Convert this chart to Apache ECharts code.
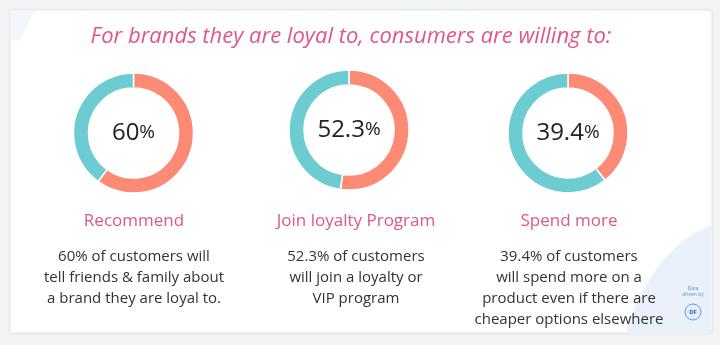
<!DOCTYPE html>
<html>
<head>
<meta charset="utf-8">
<script src="https://cdn.jsdelivr.net/npm/echarts@6/dist/echarts.min.js"></script>
<style>
html,body{margin:0;padding:0;background:#f2f3f5;}
#c{width:720px;height:345px;}
</style>
</head>
<body>
<div id="c"></div>
<script>
var titleText = "For brands they are loyal to, consumers are willing to:";
var categories = ["Recommend", "Join loyalty Program", "Spend more"];
var values = [60, 52.3, 39.4];
var valueLabels = ["60", "52.3", "39.4"];
var descriptions = [
  ["60% of customers will", "tell friends & family about", "a brand they are loyal to."],
  ["52.3% of customers", "will join a loyalty or", "VIP program"],
  ["39.4% of customers", "will spend more on a", "product even if there are", "cheaper options elsewhere"]
];

var donutX = [133.5, 349, 568];
var donutY = [133, 130, 133];
var textX = [134, 356, 569];
var FONT = "'Open Sans', sans-serif";
var SALMON = "#fd8a74";
var TEAL = "#6dcbd2";
var PINK = "#e0568a";

var chart = echarts.init(document.getElementById('c'), null, {renderer: 'canvas'});

var series = values.map(function (v, i) {
  return {
    type: 'pie',
    center: [donutX[i], donutY[i]],
    radius: [45, 60],
    startAngle: 90,
    clockwise: true,
    silent: true,
    label: {show: false},
    labelLine: {show: false},
    itemStyle: {borderColor: '#fff', borderWidth: 1.5},
    data: [
      {value: v, itemStyle: {color: SALMON}},
      {value: 100 - v, itemStyle: {color: TEAL}}
    ]
  };
});

// decorative blob outline (bottom-right corner)
function bezierPts(p0, p1, p2, p3, n) {
  var pts = [];
  for (var k = 0; k <= n; k++) {
    var t = k / n, u = 1 - t;
    pts.push([
      u*u*u*p0[0] + 3*u*u*t*p1[0] + 3*u*t*t*p2[0] + t*t*t*p3[0],
      u*u*u*p0[1] + 3*u*u*t*p1[1] + 3*u*t*t*p2[1] + t*t*t*p3[1]
    ]);
  }
  return pts;
}
var blob = bezierPts([711, 226], [688, 232], [648, 262], [626, 332], 30);
blob.push([711, 332]);

var graphics = [
  {type: 'rect', shape: {x: 10, y: 10, width: 702, height: 323, r: 2},
   style: {fill: '#ffffff', stroke: '#e6e8eb', lineWidth: 1, shadowBlur: 4, shadowColor: 'rgba(0,0,0,0.06)'}, z: -10},
  {type: 'polygon', shape: {points: [[11, 11], [34, 11], [20, 40], [11, 40]]},
   style: {fill: '#f2f6fb'}, z: -9},
  {type: 'polygon', shape: {points: blob}, style: {fill: '#eaf1fa'}, z: -9},
  {type: 'text', x: 351, y: 37, style: {text: titleText, font: 'italic 22px ' + FONT, fill: PINK, align: 'center', verticalAlign: 'middle'}},
  {type: 'text', x: 693, y: 292, style: {text: 'Data\ndriven by', font: '5px ' + FONT, fill: '#5b8fd6', align: 'center', verticalAlign: 'middle', lineHeight: 6}},
  {type: 'circle', shape: {cx: 693, cy: 312, r: 8}, style: {fill: '#e3edfb', stroke: '#6a9de0', lineWidth: 1}},
  {type: 'text', x: 693, y: 312, style: {text: 'DF', font: 'bold 6px ' + FONT, fill: '#2d5fb0', align: 'center', verticalAlign: 'middle'}}
];

values.forEach(function (v, i) {
  graphics.push({
    type: 'text', x: donutX[i], y: donutY[i],
    style: {
      text: '{a|' + valueLabels[i] + '}{b|%}',
      align: 'center', verticalAlign: 'middle',
      rich: {
        a: {fontSize: 24, fontFamily: FONT, fill: '#222222'},
        b: {fontSize: 19, fontFamily: FONT, fill: '#222222'}
      }
    }
  });
  graphics.push({
    type: 'text', x: textX[i], y: 221,
    style: {text: categories[i], font: '17px ' + FONT, fill: PINK, align: 'center', verticalAlign: 'middle'}
  });
  descriptions[i].forEach(function (line, j) {
    graphics.push({
      type: 'text', x: textX[i], y: 257 + j * 21,
      style: {text: line, font: '15px ' + FONT, fill: '#333333', align: 'center', verticalAlign: 'middle'}
    });
  });
});

chart.setOption({
  backgroundColor: 'transparent',
  animation: false,
  series: series,
  graphic: graphics
});
</script>
</body>
</html>
